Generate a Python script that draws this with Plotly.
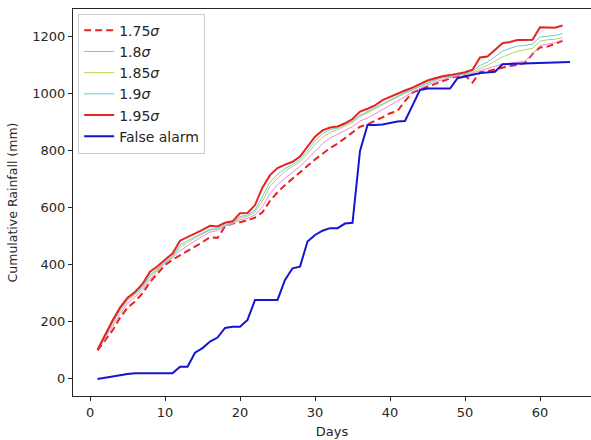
import plotly.graph_objects as go

# Day indices
days_sigma = list(range(1, 64))
days_alarm = list(range(1, 65))

# Cumulative rainfall (mm) for each threshold
rain_175 = [100, 135, 170, 215, 250, 272, 300, 340, 372, 400, 418, 433, 450, 463, 480, 497, 495, 535, 545, 550,
            556, 566, 585, 625, 655, 680, 703, 727, 750, 770, 790, 810, 825, 845, 862, 885, 893, 905, 918, 932,
            940, 975, 1005, 1015, 1025, 1035, 1045, 1055, 1062, 1065, 1040, 1076, 1080, 1086, 1094, 1098, 1102, 1108, 1140, 1163,
            1166, 1175, 1186]
rain_180 = [100, 142, 185, 228, 265, 288, 312, 350, 380, 405, 425, 450, 468, 485, 500, 515, 520, 536, 545, 558,
            563, 575, 605, 650, 682, 705, 725, 745, 772, 800, 825, 845, 858, 872, 885, 905, 915, 930, 945, 960,
            975, 990, 1008, 1020, 1032, 1042, 1050, 1058, 1064, 1068, 1072, 1082, 1090, 1098, 1105, 1108, 1112, 1115, 1140, 1170,
            1175, 1180, 1190]
rain_185 = [100, 148, 195, 238, 275, 297, 320, 360, 385, 408, 428, 462, 478, 495, 508, 522, 525, 538, 546, 565,
            570, 585, 625, 675, 705, 728, 745, 762, 790, 822, 848, 865, 875, 888, 900, 920, 935, 948, 962, 976,
            990, 1002, 1014, 1026, 1038, 1048, 1056, 1062, 1066, 1070, 1075, 1090, 1100, 1115, 1130, 1140, 1150, 1155, 1160, 1185,
            1190, 1192, 1198]
rain_190 = [100, 150, 198, 242, 278, 300, 325, 365, 388, 410, 430, 470, 485, 500, 512, 525, 528, 540, 548, 570,
            575, 592, 640, 690, 718, 738, 752, 770, 800, 835, 860, 875, 880, 893, 905, 925, 940, 952, 965, 980,
            992, 1005, 1016, 1028, 1040, 1050, 1058, 1063, 1068, 1072, 1080, 1100, 1112, 1132, 1150, 1160, 1168, 1170, 1175, 1200,
            1203, 1205, 1212]
rain_195 = [102, 155, 205, 250, 285, 305, 333, 376, 395, 418, 440, 485, 497, 511, 523, 537, 535, 548, 553, 581,
            582, 610, 672, 715, 740, 752, 762, 780, 815, 850, 872, 882, 886, 897, 912, 938, 948, 960, 978, 990,
            1000, 1012, 1022, 1035, 1047, 1055, 1062, 1066, 1070, 1076, 1085, 1128, 1131, 1155, 1178, 1182, 1189, 1189, 1190, 1234,
            1234, 1232, 1240]
false_alarm = [0, 5, 9, 13, 17, 20, 20, 20, 20, 20, 20, 43, 43, 92, 108, 131, 145, 179, 183, 183,
               207, 277, 277, 277, 277, 347, 388, 394, 482, 505, 520, 529, 529, 545, 548, 800, 891, 891, 893, 898,
               903, 905, 960, 1014, 1019, 1019, 1019, 1019, 1055, 1062, 1067, 1073, 1075, 1078, 1104, 1105, 1106, 1107, 1107, 1108,
               1109, 1110, 1111, 1112]

x_ticks = [0, 10, 20, 30, 40, 50, 60]
y_ticks = [0, 200, 400, 600, 800, 1000, 1200]

FONT = "DejaVu Sans"
INK = "#262626"

fig = go.Figure()
series = [
    ("1.75<i>σ</i>", days_sigma, rain_175, "#e8231f", 2.0, "7px,4px"),
    ("1.8<i>σ</i>", days_sigma, rain_180, "#e889e8", 1.0, "solid"),
    ("1.85<i>σ</i>", days_sigma, rain_185, "#b5d455", 1.0, "solid"),
    ("1.9<i>σ</i>", days_sigma, rain_190, "#6cc8dc", 1.0, "solid"),
    ("1.95<i>σ</i>", days_sigma, rain_195, "#e8231f", 2.0, "solid"),
    ("False alarm", days_alarm, false_alarm, "#1414d2", 2.0, "solid"),
]
for name, xs, ys, color, width, dash in series:
    fig.add_trace(go.Scatter(x=xs, y=ys, mode="lines", name=name,
                             line=dict(color=color, width=width, dash=dash)))

fig.update_layout(
    width=591, height=440,
    margin=dict(l=73, r=0, t=9, b=44),
    paper_bgcolor="white", plot_bgcolor="white",
    font=dict(family=FONT, size=12, color=INK),
    showlegend=True,
    legend=dict(x=0.01, y=0.988, xanchor="left", yanchor="top",
                bgcolor="rgba(255,255,255,0.85)", bordercolor="#cccccc", borderwidth=1,
                font=dict(family=FONT, size=14, color=INK),
                tracegroupgap=0, itemwidth=30),
)
fig.update_xaxes(range=[-2.27, 66.8], tickvals=x_ticks, showgrid=False, zeroline=False,
                 showline=True, linecolor=INK, linewidth=1, mirror=True,
                 ticks="outside", ticklen=4, tickcolor=INK, tickfont=dict(size=13),
                 title=dict(text="Days", font=dict(size=13), standoff=8))
fig.update_yaxes(range=[-60, 1298], tickvals=y_ticks, showgrid=False, zeroline=False,
                 showline=True, linecolor=INK, linewidth=1,
                 ticks="outside", ticklen=4, tickcolor=INK, tickfont=dict(size=13),
                 title=dict(text="Cumulative Rainfall (mm)", font=dict(size=12.5), standoff=11))

fig.write_html("out.html")
